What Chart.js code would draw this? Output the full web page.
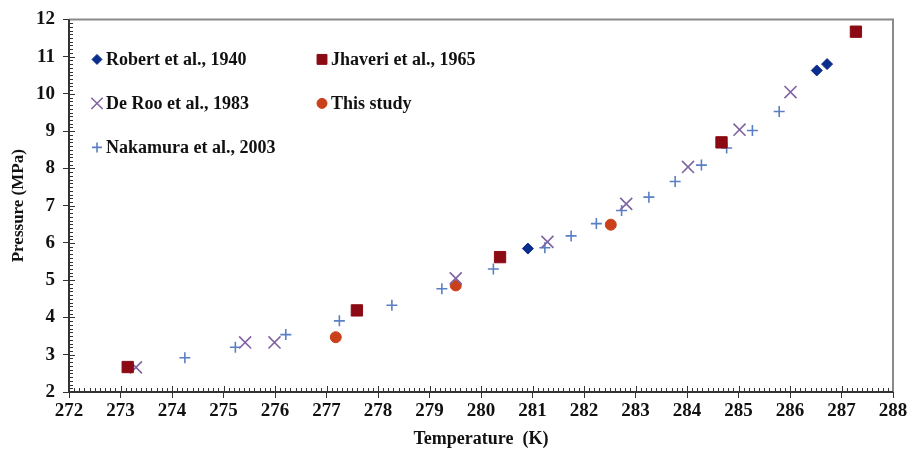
<!DOCTYPE html>
<html>
<head>
<meta charset="utf-8">
<script src="https://cdn.jsdelivr.net/npm/chart.js@4/dist/chart.umd.min.js"></script>
<style>
  html, body { margin: 0; padding: 0; background: #fff; }
  canvas { display: block; }
</style>
</head>
<body>
<canvas id="hydrateChart" width="912" height="452"></canvas>
<script>
// equilibrium data: temperature (K), pressure (MPa)
const robertT = [280.91, 286.52, 286.72];
const robertP = [5.85, 10.63, 10.80];

const jhaveriT = [273.14, 277.59, 280.37, 284.67, 287.28];
const jhaveriP = [2.67, 4.19, 5.62, 8.70, 11.67];

const deRooT = [273.30, 275.42, 275.99, 279.51, 281.29, 282.82, 284.02, 285.02, 286.01];
const deRooP = [2.66, 3.33, 3.33, 5.05, 6.03, 7.05, 8.04, 9.04, 10.05];

const thisStudyT = [277.18, 279.51, 282.52];
const thisStudyP = [3.47, 4.86, 6.49];

const nakamuraT = [274.25, 275.23, 276.21, 277.25, 278.27, 279.24, 280.24, 281.24, 281.75,
  282.24, 282.73, 283.26, 283.77, 284.28, 284.77, 285.27, 285.79];
const nakamuraP = [2.92, 3.20, 3.54, 3.91, 4.33, 4.77, 5.30, 5.87, 6.19,
  6.52, 6.87, 7.23, 7.65, 8.09, 8.55, 9.02, 9.53];

const xMin = 272, xMax = 288;
const yMin = 2, yMax = 12;

const serif = '"Liberation Serif", "Times New Roman", serif';

function pts(xs, ys) {
  return xs.map((x, i) => ({ x, y: ys[i] }));
}

const datasets = [
  { label: 'Robert et al., 1940', data: pts(robertT, robertP), pointStyle: 'rectRot',
    pointRadius: 5.5, backgroundColor: '#0b2d8c', borderColor: '#0b2d8c', borderWidth: 1 },
  { label: 'Jhaveri et al., 1965', data: pts(jhaveriT, jhaveriP), pointStyle: 'rect',
    pointRadius: 8, backgroundColor: '#8b0a14', borderColor: '#8b0a14', borderWidth: 1 },
  { label: 'De Roo et al., 1983', data: pts(deRooT, deRooP), pointStyle: 'crossRot',
    pointRadius: 8.5, backgroundColor: '#8064a2', borderColor: '#8064a2', borderWidth: 1.6 },
  { label: 'This study', data: pts(thisStudyT, thisStudyP), pointStyle: 'circle',
    pointRadius: 5.5, backgroundColor: '#c9401a', borderColor: '#c9401a', borderWidth: 1 },
  { label: 'Nakamura et al., 2003', data: pts(nakamuraT, nakamuraP), pointStyle: 'cross',
    pointRadius: 5.5, backgroundColor: '#5b7fc4', borderColor: '#5b7fc4', borderWidth: 1.6 }
];

// frame plus inward minor/major ticks
const framePlugin = {
  id: 'frame',
  afterDatasetsDraw(chart) {
    const { ctx, chartArea: a, scales } = chart;
    const xs = scales.x, ys = scales.y;
    ctx.save();
    ctx.strokeStyle = '#8a8a8a';
    ctx.lineWidth = 2;
    ctx.beginPath();
    ctx.moveTo(a.left, a.top);
    ctx.lineTo(a.right, a.top);
    ctx.lineTo(a.right, a.bottom);
    ctx.stroke();

    ctx.strokeStyle = '#333';
    ctx.lineWidth = 1;
    ctx.beginPath();
    for (let i = 1; i < (xMax - xMin) * 10; i++) {
      const px = Math.round(xs.getPixelForValue(xMin + i / 10)) + 0.5;
      const len = i % 10 === 0 ? 6 : 4;
      ctx.moveTo(px, a.bottom);
      ctx.lineTo(px, a.bottom - len);
    }
    for (let i = 1; i < (yMax - yMin) * 10; i++) {
      const py = Math.round(ys.getPixelForValue(yMin + i / 10)) + 0.5;
      const len = i % 10 === 0 ? 6 : 4;
      ctx.moveTo(a.left, py);
      ctx.lineTo(a.left + len, py);
    }
    ctx.stroke();

    ctx.lineWidth = 2;
    ctx.beginPath();
    ctx.moveTo(a.left, a.top);
    ctx.lineTo(a.left, a.bottom);
    ctx.lineTo(a.right, a.bottom);
    ctx.stroke();
    ctx.restore();
  }
};

// two-column legend inside the plot area
const legendSlots = [
  { col: 0, row: 0 }, { col: 1, row: 0 },
  { col: 0, row: 1 }, { col: 1, row: 1 },
  { col: 0, row: 2 }
];
const gridLegend = {
  id: 'gridLegend',
  afterDraw(chart) {
    const { ctx, chartArea: a } = chart;
    chart.data.datasets.forEach((ds, i) => {
      const s = legendSlots[i];
      const mx = a.left + 28 + s.col * 225;
      const my = a.top + 40 + s.row * 44;
      const r = ds.pointStyle === 'rect' ? 7 : ds.pointStyle === 'crossRot' ? 8 : 5;
      ctx.save();
      ctx.strokeStyle = ds.borderColor;
      ctx.fillStyle = ds.backgroundColor;
      ctx.lineWidth = ds.borderWidth;
      Chart.helpers.drawPoint(ctx, { pointStyle: ds.pointStyle, radius: r, rotation: 0, borderWidth: ds.borderWidth }, mx, my);
      ctx.font = 'bold 18px ' + serif;
      ctx.fillStyle = '#111';
      ctx.textBaseline = 'middle';
      ctx.fillText(ds.label, mx + 9, my + 1);
      ctx.restore();
    });
  }
};

new Chart(document.getElementById('hydrateChart'), {
  type: 'scatter',
  data: { datasets },
  options: {
    responsive: false,
    animation: false,
    layout: { padding: { left: 0, right: 19, top: 15, bottom: 0 } },
    plugins: { legend: { display: false }, tooltip: { enabled: false } },
    scales: {
      x: {
        min: xMin, max: xMax,
        afterFit: (s) => { s.height = 60; },
        ticks: { stepSize: 1, color: '#111', padding: 2, font: { family: serif, size: 19, weight: 'bold' } },
        grid: { drawOnChartArea: false, tickLength: 6, tickColor: '#333', tickWidth: 1 },
        border: { display: false },
        title: { display: true, text: 'Temperature  (K)', color: '#111', padding: { top: 0, bottom: 2 },
          font: { family: serif, size: 18, weight: 'bold' } }
      },
      y: {
        min: yMin, max: yMax,
        afterFit: (s) => { s.width = 69; },
        ticks: { stepSize: 1, color: '#111', padding: 8, font: { family: serif, size: 19, weight: 'bold' } },
        grid: { drawOnChartArea: false, tickLength: 6, tickColor: '#333', tickWidth: 1 },
        border: { display: false },
        title: { display: true, text: 'Pressure (MPa)', color: '#111', padding: { top: 8, bottom: 0 },
          font: { family: serif, size: 17, weight: 'bold' } }
      }
    }
  },
  plugins: [framePlugin, gridLegend]
});
</script>
</body>
</html>
